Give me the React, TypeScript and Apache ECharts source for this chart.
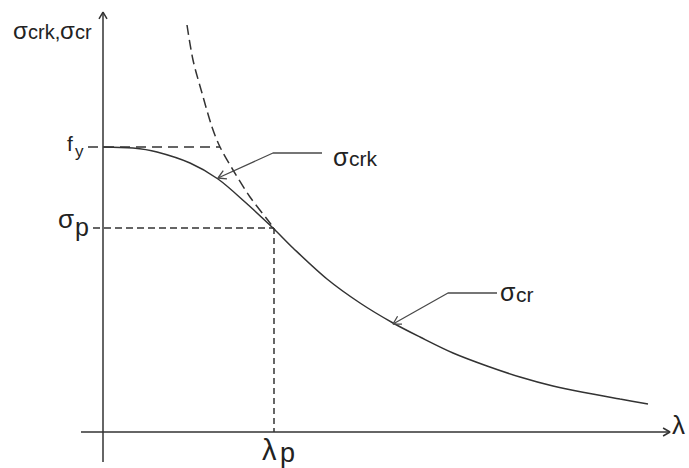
import React, { useEffect, useRef } from "react";
import * as echarts from "echarts";

// Axis extents (slenderness λ horizontally, stress σ vertically; drawing units)
const LAMBDA_RANGE = [-22, 567];
const SIGMA_RANGE = [-30, 420];

// Key levels
const FY = 285; // yield stress f_y
const SIGMA_P = 204; // proportional limit σ_p
const LAMBDA_P = 171; // λ_p

// Solid buckling curve σ_crk / σ_cr
const CURVE_LAMBDA = [0, 30, 54, 87, 115, 142, 170, 190, 224, 257, 290, 317, 350, 384, 417, 450, 484, 517, 545];
const CURVE_SIGMA = [285, 284, 280, 269, 253, 230, 204, 184, 153, 129, 109, 95, 79, 66, 55, 46, 39, 33, 28];

// Dashed Euler hyperbola
const EULER_LAMBDA = [84, 90, 99, 109, 117, 130, 147, 167, 172];
const EULER_SIGMA = [407, 372, 339, 305, 285, 262, 235, 209, 202];

// Annotation leader lines (start of horizontal, bend, arrow tip)
const LEADER_CRK = [[219, 279], [170, 279], [115, 254]];
const LEADER_CR = [[394, 139], [345, 139], [290, 108]];

const INK = "#333333";
const LEADER = "#4a4a4a";
const FONT = "'Liberation Sans', Arial, sans-serif";

function arrowHead(tail: number[], tip: number[], len = 9, deg = 28) {
  const dx = tail[0] - tip[0];
  const dy = tail[1] - tip[1];
  const d = Math.hypot(dx, dy);
  const ux = dx / d;
  const uy = dy / d;
  const a = (deg * Math.PI) / 180;
  const rot = (s: number) => [
    tip[0] + len * (ux * Math.cos(s) - uy * Math.sin(s)),
    tip[1] + len * (ux * Math.sin(s) + uy * Math.cos(s)),
  ];
  return [rot(a), tip, rot(-a)];
}

function lineSeries(data: number[][], style: any, extra: any = {}) {
  return {
    type: "line",
    data,
    symbol: "none",
    silent: true,
    lineStyle: style,
    ...extra,
  };
}

function txt(text: string, x: number, y: number, size: number) {
  return {
    type: "text",
    x,
    y,
    silent: true,
    style: {
      text,
      font: `${size}px ${FONT}`,
      fill: "#222",
      align: "left",
      verticalAlign: "middle",
    },
  };
}

export default function App() {
  const ref = useRef<HTMLDivElement>(null);

  useEffect(() => {
    if (!ref.current) return;
    const chart = echarts.init(ref.current, undefined, { renderer: "svg" });

    const curve = CURVE_LAMBDA.map((l, i) => [l, CURVE_SIGMA[i]]);
    const euler = EULER_LAMBDA.map((l, i) => [l, EULER_SIGMA[i]]);
    const axisStyle = { color: INK, width: 1.5 };
    const leaderStyle = { color: LEADER, width: 1.3 };

    const xTip = [LAMBDA_RANGE[1], 0];
    const yTip = [0, SIGMA_RANGE[1]];

    const series: any[] = [
      // axes
      lineSeries([[LAMBDA_RANGE[0], 0], xTip], axisStyle),
      lineSeries(arrowHead([LAMBDA_RANGE[1] - 40, 0], xTip, 8, 30), axisStyle),
      lineSeries([[0, SIGMA_RANGE[0]], yTip], axisStyle),
      lineSeries(arrowHead([0, SIGMA_RANGE[1] - 40], yTip, 8, 30), axisStyle),
      // f_y level
      lineSeries([[-15, FY], [117, FY]], { color: INK, width: 1.5, type: [10, 6] }),
      // σ_p level and λ_p
      lineSeries([[-10, SIGMA_P], [LAMBDA_P, SIGMA_P]], { color: INK, width: 1.5, type: [7, 4] }),
      lineSeries([[LAMBDA_P, SIGMA_P], [LAMBDA_P, 0]], { color: INK, width: 1.5, type: [6, 4] }),
      // Euler hyperbola
      lineSeries(euler, { color: INK, width: 1.5, type: [10, 5] }, { smooth: 0.3 }),
      // buckling curve
      lineSeries(curve, { color: INK, width: 1.5 }, { smooth: 0.3 }),
      // leaders
      lineSeries(LEADER_CRK, leaderStyle),
      lineSeries(arrowHead(LEADER_CRK[1], LEADER_CRK[2], 9, 30), leaderStyle),
      lineSeries(LEADER_CR, leaderStyle),
      lineSeries(arrowHead(LEADER_CR[1], LEADER_CR[2], 9, 30), leaderStyle),
    ];

    chart.setOption({
      animation: false,
      backgroundColor: "#ffffff",
      grid: { left: 81, top: 12, width: 589, height: 450, containLabel: false },
      xAxis: { type: "value", min: LAMBDA_RANGE[0], max: LAMBDA_RANGE[1], show: false },
      yAxis: { type: "value", min: SIGMA_RANGE[0], max: SIGMA_RANGE[1], show: false },
      series,
      graphic: [
        txt("σ", 13, 30, 24),
        txt("crk,", 28, 32, 20),
        txt("σ", 60, 30, 24),
        txt("cr", 75, 32, 20),
        txt("f", 67, 143, 21),
        txt("y", 75, 151, 17),
        txt("σ", 58, 219, 26),
        txt("p", 75, 227, 25),
        txt("σ", 333, 157, 25),
        txt("crk", 349, 158, 21),
        txt("σ", 500, 292, 25),
        txt("cr", 516, 294, 21),
        txt("λ", 672, 425, 26),
        txt("λ", 262, 450, 29),
        txt("p", 280, 453, 27),
      ],
    });

    return () => chart.dispose();
  }, []);

  return (
    <div
      ref={ref}
      style={{ position: "fixed", left: 0, top: 0, width: 689, height: 468, background: "#fff" }}
    />
  );
}
